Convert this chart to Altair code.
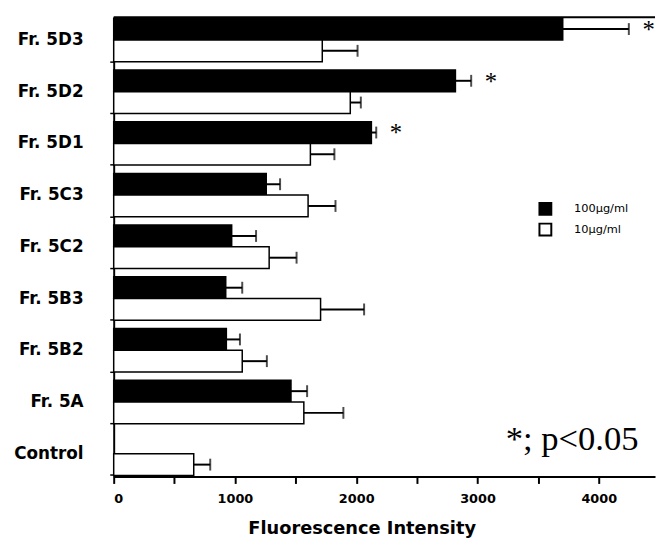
import altair as alt
import pandas as pd

categories = ["Fr. 5D3", "Fr. 5D2", "Fr. 5D1", "Fr. 5C3", "Fr. 5C2",
              "Fr. 5B3", "Fr. 5B2", "Fr. 5A", "Control"]
series = ["100µg/ml", "10µg/ml"]
high_vals = [3703, 2818, 2125, 1258, 973, 924, 929, 1462, None]
high_errs = [545, 130, 40, 114, 201, 136, 112, 133, None]
low_vals = [1720, 1951, 1622, 1603, 1282, 1706, 1060, 1568, 660]
low_errs = [291, 87, 198, 226, 226, 359, 203, 326, 136]
high_sig = ["*", "*", "*", "", "", "", "", "", ""]
x_ticks = [0, 500, 1000, 1500, 2000, 2500, 3000, 3500, 4000]
x_max = 4464
note_text = "*; p<0.05"
note_x = 3233
x_title = "Fluorescence Intensity"

rows = []
for i, c in enumerate(categories):
    for s, vals, errs in ((series[0], high_vals, high_errs), (series[1], low_vals, low_errs)):
        v = vals[i]
        if v is None:
            continue
        rows.append({
            "cat": c, "series": s, "value": v, "upper": v + errs[i],
            "sig": high_sig[i] if s == series[0] else "",
        })
df = pd.DataFrame(rows)

xscale = alt.Scale(domain=[0, x_max], nice=False, zero=True)
yenc = alt.Y(
    "cat:N", sort=categories,
    scale=alt.Scale(domain=categories, paddingInner=0.16, paddingOuter=0.02),
    axis=alt.Axis(
        title=None, labelFont="DejaVu Sans", labelFontWeight="bold",
        labelFontSize=17, labelColor="black", labelPadding=27,
        ticks=True, tickSize=4, tickWidth=1.5, tickColor="black", bandPosition=1,
        domainColor="black", domainWidth=2, grid=False,
    ),
)
yoff = alt.YOffset("series:N", scale=alt.Scale(domain=series, paddingInner=0, paddingOuter=0))

base = alt.Chart(df)

bars = base.mark_bar(stroke="black", strokeWidth=1.5).encode(
    x=alt.X(
        "value:Q", scale=xscale,
        axis=alt.Axis(
            values=x_ticks, format="d",
            labelExpr="datum.value % 1000 === 0 ? datum.label : ''",
            labelFont="DejaVu Sans", labelFontWeight="bold", labelFontSize=13,
            labelColor="black", labelPadding=9,
            tickSize=7, tickWidth=2, tickColor="black",
            domainColor="black", domainWidth=2, grid=False,
            title=x_title, titleFont="DejaVu Sans", titleFontWeight="bold",
            titleFontSize=18, titleColor="black", titleX=251, titleY=58,
            titleAlign="center", titleBaseline="alphabetic",
        ),
    ),
    y=yenc,
    yOffset=yoff,
    fill=alt.Fill(
        "series:N",
        scale=alt.Scale(domain=series, range=["black", "white"]),
        legend=alt.Legend(
            title=None, orient="none", legendX=430, legendY=187,
            symbolType="square", symbolSize=144, symbolStrokeColor="black",
            symbolStrokeWidth=2, labelFont="DejaVu Sans", labelFontSize=11.5,
            labelColor="black", labelOffset=22, rowPadding=1, padding=0,
        ),
    ),
)

rules = base.mark_rule(color="black", strokeWidth=2).encode(
    x="value:Q", x2="upper:Q", y=yenc, yOffset=yoff,
)

caps = base.mark_tick(color="black", thickness=2, size=12, orient="vertical").encode(
    x="upper:Q", y=yenc, yOffset=yoff,
)

stars = base.transform_filter("datum.sig != ''").mark_text(
    font="Liberation Serif", fontSize=25, align="center", baseline="alphabetic",
    dx=20, dy=9, color="black",
).encode(x="upper:Q", y=yenc, yOffset=yoff, text="sig:N")

note = alt.Chart(pd.DataFrame({"t": [note_text]})).mark_text(
    font="Liberation Serif", fontSize=35, align="left", baseline="alphabetic",
    color="black",
).encode(x=alt.datum(note_x), y=alt.value(438), text="t:N")

topline = alt.Chart(pd.DataFrame({"a": [0]})).mark_rule(
    color="black", strokeWidth=2
).encode(x=alt.datum(0), x2=alt.datum(x_max), y=alt.value(0))

chart = alt.layer(bars, rules, caps, stars, note, topline).properties(
    width=548, height=465,
    autosize=alt.AutoSizeParams(type="none"),
    padding={"left": 107, "top": 6, "right": 2, "bottom": 62},
    background="white",
).configure_view(stroke=None)

chart.save("out.html", embed_options={"renderer": "svg", "actions": False})
